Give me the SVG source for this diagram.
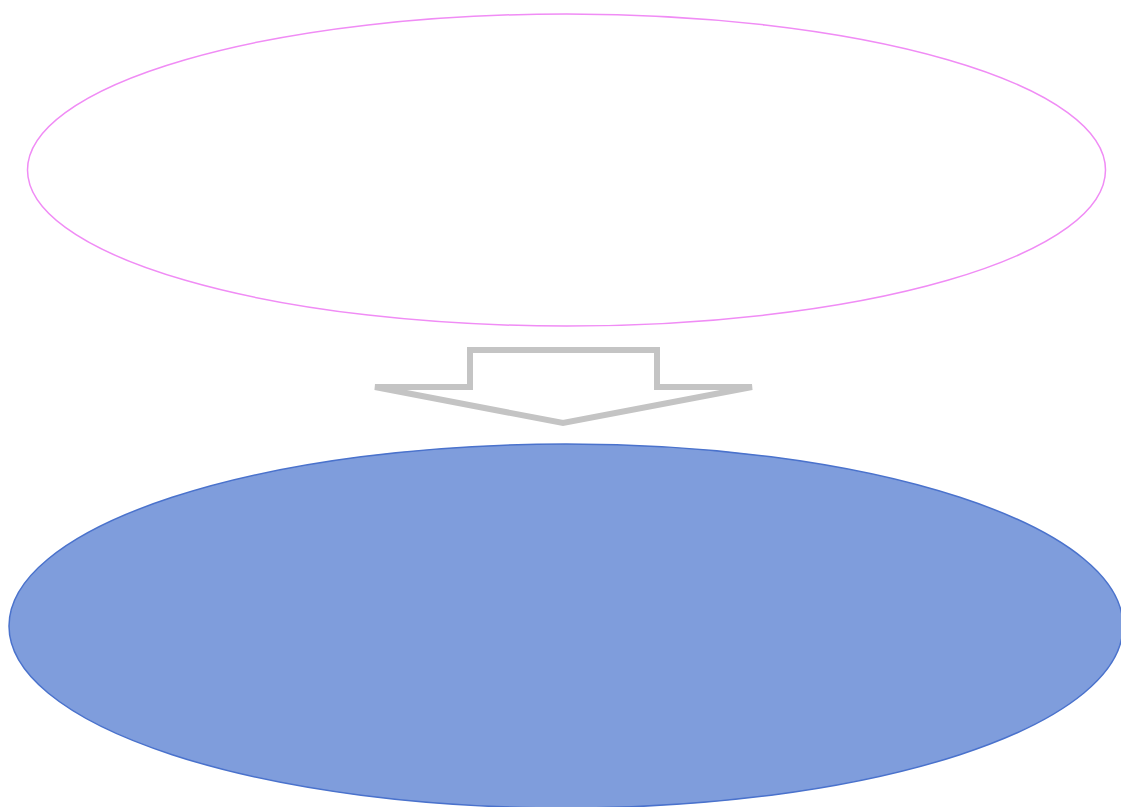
<svg xmlns="http://www.w3.org/2000/svg" width="1121" height="807" viewBox="0 0 1121 807">
<style>
.top{fill:#ffffff;stroke:#f08cf5;stroke-width:1.5}
.bottom{fill:#7f9ddc;stroke:#4a72cc;stroke-width:1.5}
.arrow{fill:#ffffff;stroke:#c4c4c4;stroke-width:6;stroke-linejoin:miter}
</style>
<rect width="1121" height="807" fill="#ffffff"/>
<g id="node-top">
<ellipse class="top" cx="566.5" cy="170" rx="539" ry="156"/>
</g>
<g id="connectors">
<path class="arrow" d="M470,350 L657,350 L657,387 L752,387 L563,423 L375,387 L470,387 Z"/>
</g>
<g id="node-bottom">
<ellipse class="bottom" cx="566" cy="626" rx="557" ry="182"/>
</g>
</svg>
